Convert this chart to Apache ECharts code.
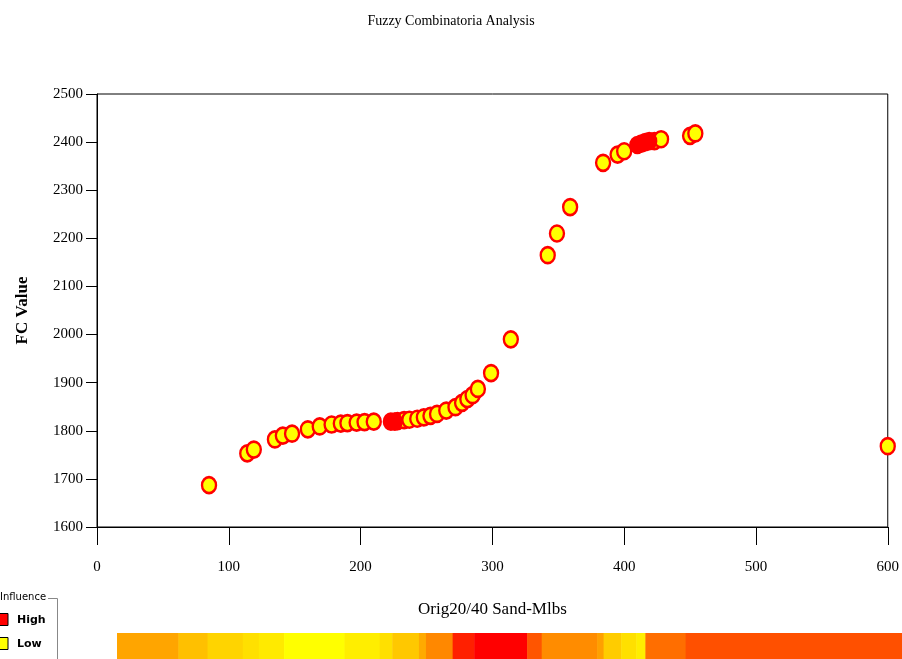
<!DOCTYPE html>
<html>
<head>
<meta charset="utf-8">
<title>Fuzzy Combinatoria Analysis</title>
<script src="https://cdn.jsdelivr.net/npm/echarts@6/dist/echarts.min.js"></script>
<style>
  html, body { margin: 0; padding: 0; background: #fff; }
  #main { width: 902px; height: 659px; }
</style>
</head>
<body>
<div id="main"></div>
<script>
// points: [Orig20/40 Sand-Mlbs, FC Value]
var lowPoints = [
    [85, 1687], [114, 1753], [119, 1761], [135, 1782], [141, 1790],
    [148, 1794], [160, 1803], [169, 1809], [178, 1813], [185, 1815],
    [190, 1816], [197, 1817], [203, 1818], [210, 1819], [228, 1820],
    [233, 1822], [237, 1823], [243, 1825], [248, 1828], [253, 1831],
    [258, 1835], [265, 1842], [272, 1849], [277, 1858], [281, 1866],
    [285, 1874], [289, 1887], [299, 1920], [314, 1990], [342, 2165],
    [349, 2210], [359, 2265], [384, 2357], [395, 2374], [400, 2381],
    [423, 2402], [428, 2406], [450, 2413], [454, 2418], [600, 1768]
];
var highPoints = [
    [223, 1819], [226, 1819], [410, 2394], [413, 2397], [416, 2400], [419, 2402]
];

var xTicks = [0, 100, 200, 300, 400, 500, 600];
var yTicks = [1600, 1700, 1800, 1900, 2000, 2100, 2200, 2300, 2400, 2500];

// influence strip along the bottom
var stripEdges = [0, 122, 180, 250, 282, 332, 452, 522, 547, 600, 614, 667, 710, 815, 844, 954, 967, 1002, 1032, 1050, 1130, 1560];
var stripColors = ['#ffa500', '#ffc000', '#ffd400', '#ffe000', '#ffea00', '#ffff00', '#ffee00', '#ffe000', '#ffc800', '#ffaa00', '#ff8800', '#ff2000', '#ff0000', '#ff5500', '#ff8c00', '#ffa000', '#ffcc00', '#ffe000', '#ffee00', '#ff6e00', '#ff5000'];

var stripData = [];
for (var i = 0; i < stripColors.length; i++) {
    stripData.push([stripEdges[i], stripEdges[i + 1]]);
}

var serif = '"Liberation Serif", "DejaVu Serif", serif';

var option = {
    backgroundColor: '#FFFFFF',
    animation: false,
    title: {
        text: 'Fuzzy Combinatoria Analysis',
        left: 'center',
        top: 9,
        textStyle: { fontFamily: serif, fontSize: 14, fontWeight: 'normal', color: '#000' }
    },
    grid: [
        { left: 97, right: 13, top: 94, bottom: 132, show: true, borderColor: '#000', borderWidth: 1 },
        { left: 117, right: 0, top: 633, height: 26 }
    ],
    xAxis: [{
        type: 'value',
        gridIndex: 0,
        min: xTicks[0],
        max: xTicks[xTicks.length - 1],
        interval: 100,
        name: 'Orig20/40 Sand-Mlbs',
        nameLocation: 'middle',
        nameGap: 74,
        nameTextStyle: { fontFamily: serif, fontSize: 17, color: '#000' },
        axisLine: { lineStyle: { color: '#000', width: 1 } },
        axisTick: { length: 18, lineStyle: { color: '#000' } },
        axisLabel: { margin: 33, fontFamily: serif, fontSize: 15, color: '#000' },
        splitLine: { show: false }
    }, {
        type: 'value', gridIndex: 1, min: 0, max: 1560, show: false
    }],
    yAxis: [{
        type: 'value',
        gridIndex: 0,
        min: yTicks[0],
        max: yTicks[yTicks.length - 1],
        interval: 100,
        name: 'FC Value',
        nameLocation: 'middle',
        nameGap: 66,
        nameTextStyle: { fontFamily: serif, fontSize: 17, fontWeight: 'bold', color: '#000' },
        axisLine: { lineStyle: { color: '#000', width: 1 } },
        axisTick: { length: 11, lineStyle: { color: '#000' } },
        axisLabel: {
            margin: 14, fontFamily: serif, fontSize: 15, color: '#000',
            formatter: function (v) { return String(v); }
        },
        splitLine: { show: false }
    }, {
        type: 'value', gridIndex: 1, min: 0, max: 1, show: false
    }],
    graphic: [
        { type: 'text', left: 0, top: 592, style: { text: 'Influence', font: '10px "DejaVu Sans"', fill: '#000' } },
        { type: 'line', shape: { x1: 48, y1: 598.5, x2: 57.5, y2: 598.5 }, style: { stroke: '#888', lineWidth: 1 } },
        { type: 'line', shape: { x1: 57.5, y1: 598.5, x2: 57.5, y2: 659 }, style: { stroke: '#888', lineWidth: 1 } },
        { type: 'rect', shape: { x: -4, y: 613.5, width: 12, height: 12 }, style: { fill: '#ff0000', stroke: '#000', lineWidth: 1 } },
        { type: 'text', x: 17, y: 615, style: { text: 'High', font: 'bold 11px "DejaVu Sans"', fill: '#000' } },
        { type: 'rect', shape: { x: -4, y: 637.5, width: 12, height: 12 }, style: { fill: '#ffff00', stroke: '#000', lineWidth: 1 } },
        { type: 'text', x: 17, y: 639, style: { text: 'Low', font: 'bold 11px "DejaVu Sans"', fill: '#000' } }
    ],
    series: [{
        name: 'Low',
        type: 'scatter',
        xAxisIndex: 0,
        yAxisIndex: 0,
        symbol: 'circle',
        symbolSize: [14, 16],
        itemStyle: { color: '#ffff00', borderColor: '#ff0000', borderWidth: 2.5, opacity: 1 },
        data: lowPoints
    }, {
        name: 'High',
        type: 'scatter',
        xAxisIndex: 0,
        yAxisIndex: 0,
        symbol: 'circle',
        symbolSize: [14, 16],
        itemStyle: { color: '#ff0000', borderColor: '#ff0000', borderWidth: 2.5, opacity: 1 },
        data: highPoints
    }, {
        name: 'strip',
        type: 'custom',
        xAxisIndex: 1,
        yAxisIndex: 1,
        renderItem: function (params, api) {
            var p0 = api.coord([api.value(0), 1]);
            var p1 = api.coord([api.value(1), 0]);
            return {
                type: 'rect',
                shape: { x: p0[0], y: p0[1], width: p1[0] - p0[0] + 0.5, height: p1[1] - p0[1] },
                style: { fill: stripColors[params.dataIndex] }
            };
        },
        encode: { x: [0, 1] },
        data: stripData
    }]
};

var myChart = echarts.init(document.getElementById('main'));
myChart.setOption(option);
</script>
</body>
</html>
